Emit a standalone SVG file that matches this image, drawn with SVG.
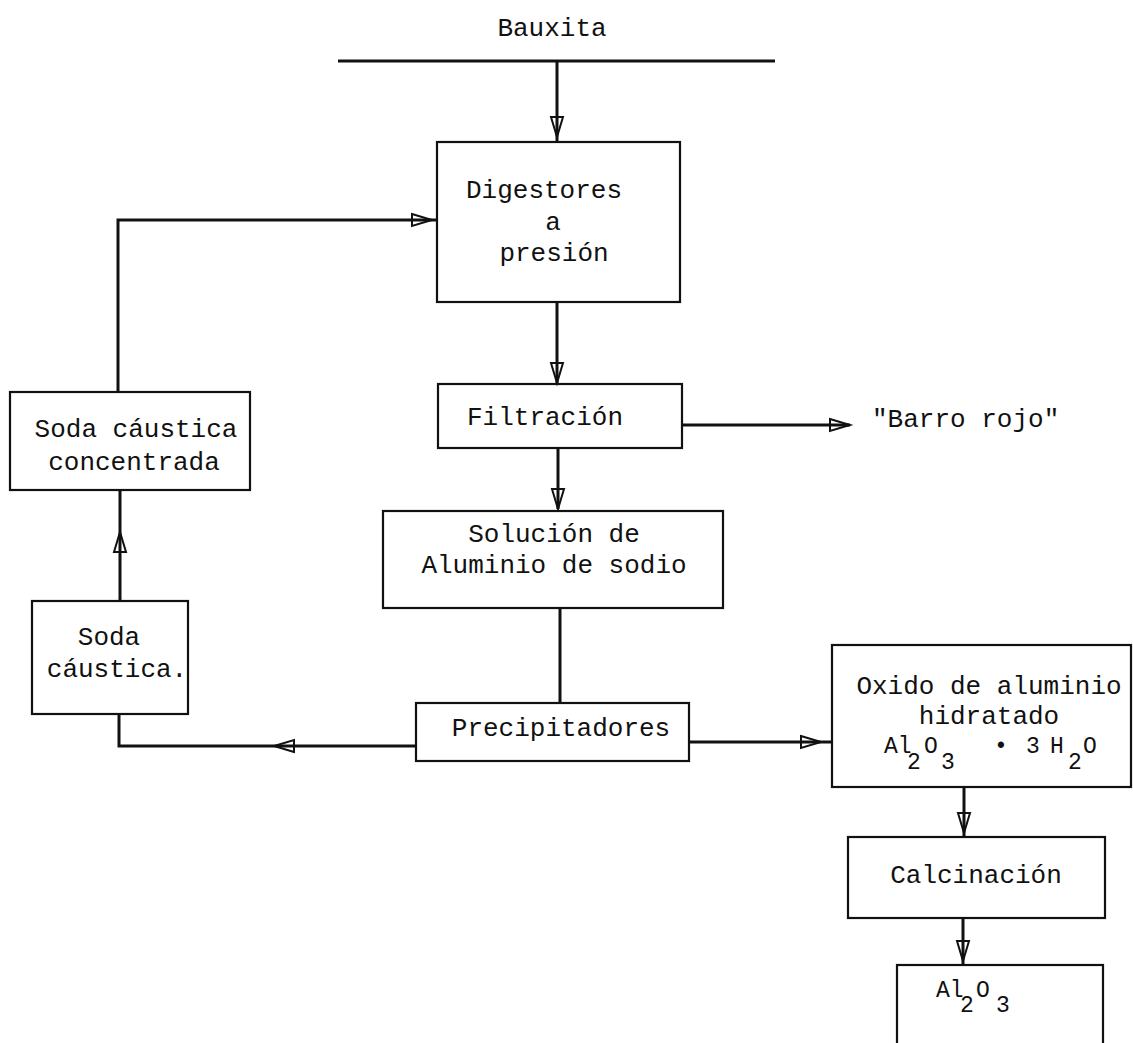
<svg xmlns="http://www.w3.org/2000/svg" width="1133" height="1043" viewBox="0 0 1133 1043">
<style>
.box{fill:none;stroke:#111;stroke-width:2.2}
.ln{fill:none;stroke:#111;stroke-width:3}
text{font-family:"Liberation Mono","DejaVu Sans Mono",monospace;font-size:26px;fill:#111}
.c{text-anchor:middle}
.f{font-size:23px}
</style>
<defs>
<marker id="ah" viewBox="0 0 22 14" refX="21" refY="7" markerWidth="22" markerHeight="14" markerUnits="userSpaceOnUse" orient="auto" overflow="visible">
<path d="M1,1 L21,7 L1,13 Z" fill="none" stroke="#111" stroke-width="2"/>
</marker>
</defs>
<rect width="1133" height="1043" fill="#fff"/>

<g id="bauxita">
<text class="c" x="552" y="36">Bauxita</text>
<line class="ln" x1="338" y1="61" x2="775" y2="61"/>
</g>

<g id="digestores">
<rect class="box" x="437" y="142" width="243" height="160"/>
<text class="c" x="544" y="198">Digestores</text>
<text class="c" x="553" y="230">a</text>
<text class="c" x="554" y="261">presión</text>
</g>

<g id="filtracion">
<rect class="box" x="438" y="384" width="244" height="64"/>
<text class="c" x="545" y="425">Filtración</text>
</g>

<g id="barro">
<text x="872" y="427">"Barro rojo"</text>
</g>

<g id="solucion">
<rect class="box" x="383" y="511" width="340" height="97"/>
<text class="c" x="554" y="542">Solución de</text>
<text class="c" x="554" y="573">Aluminio de sodio</text>
</g>

<g id="precipitadores">
<rect class="box" x="416" y="703" width="273" height="58"/>
<text class="c" x="561" y="736">Precipitadores</text>
</g>

<g id="soda-concentrada">
<rect class="box" x="10" y="392" width="240" height="98"/>
<text class="c" x="136" y="437">Soda cáustica</text>
<text class="c" x="134" y="470">concentrada</text>
</g>

<g id="soda">
<rect class="box" x="32" y="601" width="156" height="113"/>
<text class="c" x="109" y="645">Soda</text>
<text class="c" x="117" y="677">cáustica.</text>
</g>

<g id="oxido">
<rect class="box" x="832" y="645" width="299" height="142"/>
<text class="c" x="989" y="694">Oxido de aluminio</text>
<text class="c" x="989" y="724">hidratado</text>
<text class="f" y="753"><tspan x="884">Al</tspan><tspan x="907" y="769">2</tspan><tspan x="924" y="753">O</tspan><tspan x="941" y="769">3</tspan><tspan x="994" y="753">•</tspan><tspan x="1026">3</tspan><tspan x="1050">H</tspan><tspan x="1068" y="769">2</tspan><tspan x="1083" y="753">O</tspan></text>
</g>

<g id="calcinacion">
<rect class="box" x="848" y="837" width="257" height="81"/>
<text class="c" x="976" y="883">Calcinación</text>
</g>

<g id="al2o3">
<rect class="box" x="897" y="965" width="206" height="90"/>
<text class="f" y="997"><tspan x="936">Al</tspan><tspan x="960" y="1012">2</tspan><tspan x="976" y="997">O</tspan><tspan x="996" y="1012">3</tspan></text>
</g>

<g id="connectors">
<path class="ln" d="M557,61 V137" marker-end="url(#ah)"/>
<path class="ln" d="M557,137 V142"/>
<path class="ln" d="M557,302 V383" marker-end="url(#ah)"/>
<path class="ln" d="M558,448 V509" marker-end="url(#ah)"/>
<path class="ln" d="M682,425 H850" marker-end="url(#ah)"/>
<path class="ln" d="M560,608 V703"/>
<path class="ln" d="M416,746 H274" marker-end="url(#ah)"/>
<path class="ln" d="M274,746 H119 V714"/>
<path class="ln" d="M120,601 V532" marker-end="url(#ah)"/>
<path class="ln" d="M120,532 V490"/>
<path class="ln" d="M118,392 V220 H432" marker-end="url(#ah)"/>
<path class="ln" d="M432,220 H437"/>
<path class="ln" d="M689,742 H821" marker-end="url(#ah)"/>
<path class="ln" d="M821,742 H832"/>
<path class="ln" d="M964,787 V833" marker-end="url(#ah)"/>
<path class="ln" d="M964,833 V837"/>
<path class="ln" d="M963,918 V961" marker-end="url(#ah)"/>
<path class="ln" d="M963,961 V965"/>
</g>
</svg>
